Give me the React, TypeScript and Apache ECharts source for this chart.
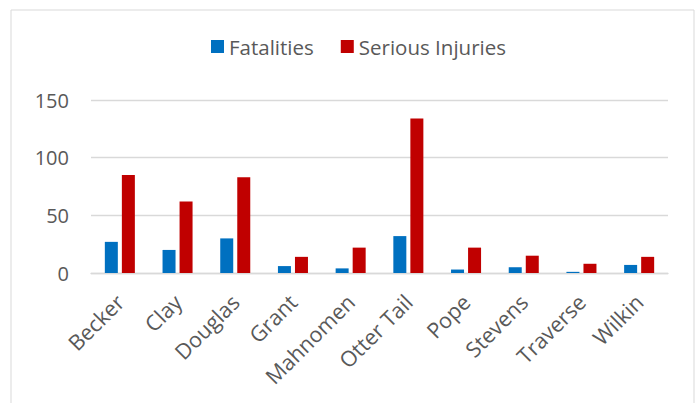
import React, { useEffect, useRef } from "react";
import * as echarts from "echarts";

const categories = ["Becker", "Clay", "Douglas", "Grant", "Mahnomen", "Otter Tail", "Pope", "Stevens", "Traverse", "Wilkin"];
const fatalities = [27, 20, 30, 6, 4, 32, 3, 5, 1, 7];
const seriousInjuries = [85, 62, 83, 14, 22, 134, 22, 15, 8, 14];
const yTicks = { min: 0, max: 150, interval: 50 };

const FONT = "'Open Sans', 'Noto Sans', sans-serif";

export default function App() {
  const ref = useRef<HTMLDivElement>(null);
  useEffect(() => {
    if (!ref.current) return;
    const chart = echarts.init(ref.current, null, { renderer: "svg" });
    chart.setOption({
      animation: false,
      backgroundColor: "#ffffff",
      textStyle: { fontFamily: FONT },
      graphic: [
        {
          type: "rect",
          shape: { x: 11, y: 10, width: 683, height: 410 },
          style: { fill: "none", stroke: "#d9d9d9", lineWidth: 1 },
          silent: true,
        },
      ],
      legend: {
        left: 211,
        top: 36,
        padding: 0,
        icon: "rect",
        itemWidth: 13,
        itemHeight: 13,
        itemGap: 27,
        textStyle: { fontSize: 20.5, color: "#595959", fontFamily: FONT },
        data: ["Fatalities", "Serious Injuries"],
      },
      grid: { left: 91, right: 31, top: 100, bottom: 130, containLabel: false },
      xAxis: {
        type: "category",
        data: categories,
        axisLine: { show: true, lineStyle: { color: "#d9d9d9", width: 1.3 } },
        axisTick: { show: false },
        axisLabel: {
          rotate: 45,
          fontSize: 21.5,
          color: "#595959",
          fontFamily: FONT,
          margin: 25,
          interval: 0,
        },
      },
      yAxis: {
        type: "value",
        min: yTicks.min,
        max: yTicks.max,
        interval: yTicks.interval,
        axisLine: { show: false },
        axisTick: { show: false },
        splitLine: { lineStyle: { color: "#d9d9d9", width: 1.3 } },
        axisLabel: { fontSize: 20, color: "#595959", fontFamily: FONT, margin: 22 },
      },
      series: [
        {
          name: "Fatalities",
          type: "bar",
          data: fatalities,
          barWidth: 13,
          barGap: "31%",
          itemStyle: { color: "#0070C0" },
        },
        {
          name: "Serious Injuries",
          type: "bar",
          data: seriousInjuries,
          barWidth: 13,
          itemStyle: { color: "#C00000" },
        },
      ],
    });
    return () => chart.dispose();
  }, []);
  return (
    <div
      ref={ref}
      style={{ position: "fixed", left: 0, top: 0, width: 699, height: 403 }}
    />
  );
}
